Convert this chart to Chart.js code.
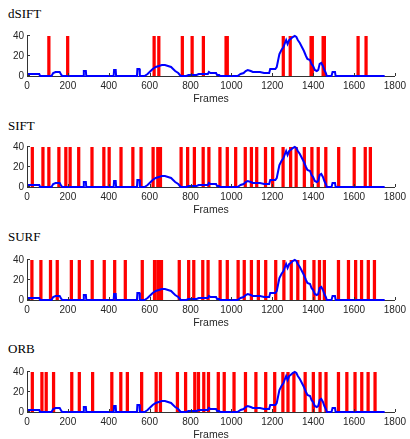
<!DOCTYPE html>
<html><head><meta charset="utf-8">
<script src="https://cdn.jsdelivr.net/npm/chart.js@4/dist/chart.umd.min.js"></script>
<style>
html,body{margin:0;padding:0;background:#fff;width:410px;height:439px;overflow:hidden;position:relative}
.panel{position:absolute;left:0;width:410px;height:110px}
.ttl{position:absolute;left:8px;font-family:"Liberation Serif","Times New Roman",serif;font-size:13px;line-height:15px;color:#000}
canvas{position:absolute;left:0;top:0}
</style></head><body>
<div class="ttl" style="top:6px">dSIFT</div>
<div class="ttl" style="top:118px">SIFT</div>
<div class="ttl" style="top:229px">SURF</div>
<div class="ttl" style="top:341px">ORB</div>
<div class="panel" style="top:0px"><canvas id="c0" width="410" height="110"></canvas></div>
<div class="panel" style="top:111px"><canvas id="c1" width="410" height="110"></canvas></div>
<div class="panel" style="top:224px"><canvas id="c2" width="410" height="110"></canvas></div>
<div class="panel" style="top:336px"><canvas id="c3" width="410" height="110"></canvas></div>
<script>
// Blue curve (same in every panel): frame positions and values
const lineFrames = [0,60,64,120,128,140,160,168,172,
  276,278,288,290,424,426,434,436,538,540,550,552,
  575,590,605,615,630,645,660,675,690,705,715,725,740,752,780,790,830,840,885,890,898,925,930,940,945,
  1030,1045,1060,1070,1080,1095,1105,1140,1160,1185,1190,1215,1222,1228,1235,1245,1255,1262,1268,1275,1283,1290,1300,1310,1318,1325,1335,1345,1355,1365,1372,1385,1392,1400,1408,1418,1425,1432,1440,1448,1455,1462,1467,1490,1495,1507,1510,1750];
const lineValues = [2,2,0,0,3,4,4,1,0,
  0,5,5,0,0,6,6,0,0,7,7,0,
  0,2,5,7,9,10,11,11,10,9,7,5,3,0,0,1,1,2,2,4,3,3,1,1,0,
  0,2,3,5,6,5,4,4,3,3,7,7,9,15,22,26,29,33,36,32,36,37,39,40,39,36,33,29,25,20,17,16,12,10,6,5,6,12,13,10,6,3,0,0,4,4,0,0];

// Red detection bars (frames) per method
const dsiftFrames = [107,199,622,645,760,808,863,974,980,1254,1288,1390,1396,1449,1455,1620,1659];
const siftFrames = [26,78,107,156,190,211,253,318,376,402,460,518,558,617,640,653,754,786,819,862,890,944,980,1021,1068,1098,1124,1167,1202,1253,1290,1317,1357,1394,1425,1462,1525,1601,1655,1680];
const surfFrames = [24,68,115,148,217,256,319,378,429,481,564,624,640,650,658,745,791,816,860,886,945,980,1033,1063,1098,1132,1168,1217,1257,1293,1325,1358,1404,1431,1455,1524,1573,1608,1637,1670,1700];
const orbFrames = [26,73,94,130,219,256,321,415,459,491,561,632,653,736,776,821,839,865,888,936,965,1013,1069,1120,1168,1212,1252,1277,1306,1361,1401,1434,1463,1524,1565,1605,1638,1669,1703];

const barHeight = 40;
const xTicks = [0,200,400,600,800,1000,1200,1400,1600,1800];
const yTicks = [0,20,40];

const AXIS = '#333333';
const innerTicks = {
  id:'innerTicks',
  afterDatasetsDraw(chart){
    const ctx=chart.ctx, xs=chart.scales.x, ys=chart.scales.y, a=chart.chartArea;
    ctx.save(); ctx.strokeStyle=AXIS; ctx.lineWidth=1; ctx.beginPath();
    xs.ticks.forEach(t=>{const px=Math.round(xs.getPixelForValue(t.value))+0.5; ctx.moveTo(px,a.bottom); ctx.lineTo(px,a.bottom-3);});
    ys.ticks.forEach(t=>{const py=Math.round(ys.getPixelForValue(t.value))-0.5; ctx.moveTo(a.left,py); ctx.lineTo(a.left+3,py);});
    ctx.stroke(); ctx.restore();
  }
};

function makeChart(id, frames){
  return new Chart(document.getElementById(id), {
    type:'bar',
    data:{datasets:[
      {type:'line', data: lineFrames.map((f,i)=>({x:f,y:lineValues[i]})), borderColor:'#0000ff', borderWidth:2, pointRadius:0, tension:0, order:0, clip:4},
      {type:'bar', data: frames.map(f=>({x:f,y:barHeight})), backgroundColor:'#ff0000', borderWidth:0, barThickness:2.6, order:1}
    ]},
    options:{
      responsive:false, animation:false, events:[],
      layout:{autoPadding:false, padding:{top:36,left:0,right:12,bottom:0}},
      plugins:{legend:{display:false}, tooltip:{enabled:false}, title:{display:false}},
      scales:{
        x:{type:'linear', min:0, max:1800, offset:false,
          afterBuildTicks(s){ s.ticks = xTicks.map(v=>({value:v})); },
          ticks:{color:'#262626', font:{family:'"Liberation Sans", Arial, sans-serif', size:10}, padding:4, maxRotation:0, autoSkip:false, callback:v=>String(v)},
          grid:{display:false, drawTicks:false, offset:false},
          border:{display:true, color:AXIS, width:1},
          title:{display:true, text:'Frames', color:'#262626', font:{family:'"Liberation Sans", Arial, sans-serif', size:10.5}, padding:{top:0,bottom:5}},
          afterFit(s){ s.height=34; }
        },
        y:{min:0, max:40,
          afterBuildTicks(s){ s.ticks = yTicks.map(v=>({value:v})); },
          ticks:{color:'#262626', font:{family:'"Liberation Sans", Arial, sans-serif', size:10}, padding:3, callback:v=>String(v)},
          grid:{display:false, drawTicks:false},
          border:{display:true, color:AXIS, width:1},
          afterFit(s){ s.width=27; }
        }
      }
    },
    plugins:[innerTicks]
  });
}
makeChart('c0', dsiftFrames);
makeChart('c1', siftFrames);
makeChart('c2', surfFrames);
makeChart('c3', orbFrames);
</script>
</body></html>
